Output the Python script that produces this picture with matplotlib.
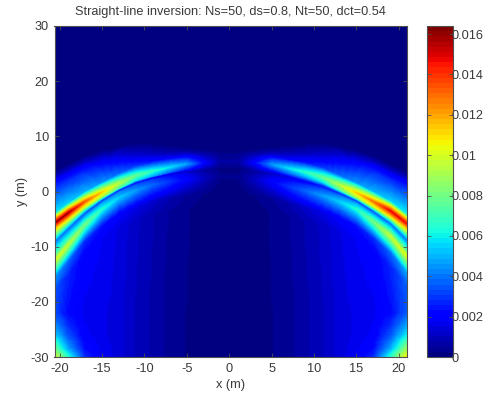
import numpy as np
import matplotlib
matplotlib.use('Agg')
import matplotlib.pyplot as plt

# Everything, one entry per x column
x_cols = [-21, -19, -17, -15, -13, -11, -9, -7, -5, -3, -1, 1, 3, 5, 7, 9, 11, 13, 15, 17, 19, 21]

# y of the features in each column
y_edge = [3.5, 5, 6.5, 7.5, 8.5, 9, 9, 8.5, 8.3, 8.1, 8, 8, 8.1, 8.3, 8.5, 9, 9, 8.5, 7.5, 6.5, 5, 3.5]
y_halo = [1, 2.5, 4, 5, 6, 6.5, 6.8, 7, 7.2, 7.3, 7.4, 7.4, 7.3, 7.2, 7, 6.8, 6.5, 6, 5, 4, 2.5, 1]
y_upper = [-6.3, -4, -1.9, -0.2, 1.4, 2.8, 3.6, 4.3, 4.9, 5.1, 5.3, 5.3, 5.1, 4.8, 4.1, 3.4, 2.5, 1.1, -0.3, -1.9, -3.6, -6]
y_lower = [-13.5, -9.8, -6.1, -3.3, -1.2, 0.1, 1.1, 1.7, 2.1, 2.4, 2.7, 2.6, 2, 1.6, 0.8, 0, -0.8, -1.9, -3.3, -5.6, -8.2, -12]

# values in units of 1e-4
z_halo = [25, 25, 25, 22, 17, 13, 10, 8, 6, 3, 1, 1, 3, 6, 8, 10, 13, 17, 22, 25, 25, 25]
z_foot = [60, 55, 50, 45, 38, 30, 24, 18, 13, 6, 2, 2, 6, 13, 18, 24, 30, 38, 45, 50, 55, 60]
z_above = [115, 105, 90, 78, 65, 52, 44, 37, 29, 13, 4, 4, 13, 30, 38, 45, 54, 66, 79, 90, 105, 110]
z_upper = [160, 160, 135, 115, 95, 78, 68, 58, 48, 22, 6, 6, 22, 46, 58, 68, 78, 95, 115, 130, 150, 148]
z_below = [115, 115, 100, 88, 72, 56, 46, 36, 26, 11, 3, 3, 11, 26, 36, 46, 56, 72, 88, 100, 112, 110]
z_dip = [42, 40, 36, 33, 29, 25, 20, 15, 11, 6, 1.5, 1.5, 6, 11, 15, 20, 25, 29, 33, 36, 40, 42]
z_lower_a = [78, 72, 60, 50, 42, 36, 30, 24, 16, 8, 2, 2, 8, 16, 24, 30, 36, 42, 50, 60, 72, 78]
z_lower = [105, 98, 82, 66, 55, 47, 38, 30, 21, 11, 3, 3, 11, 21, 30, 38, 47, 55, 66, 82, 98, 105]
z_lower_b = [80, 74, 60, 48, 41, 35, 28, 22, 14, 7, 2, 2, 7, 14, 22, 28, 35, 41, 48, 60, 74, 80]
z_tail_a = [48, 38, 28, 24, 20, 16, 12, 8, 5, 2.5, 1, 1, 2.5, 5, 8, 12, 16, 20, 24, 28, 38, 48]
z_tail_b = [36, 27, 20, 18, 15, 11, 8, 5, 3, 1, 0.5, 0.5, 1, 3, 5, 8, 11, 15, 18, 20, 27, 36]
z_y22 = [36, 22, 17, 16, 14, 10, 7, 4, 2.5, 1, 0.5, 0.5, 1, 2.5, 4, 7, 10, 14, 16, 17, 22, 36]
z_y26 = [60, 34, 19, 16, 14, 10, 7, 4, 2.5, 1, 0.5, 0.5, 1, 2.5, 4, 7, 10, 14, 16, 19, 34, 60]
z_y28 = [90, 48, 23, 17, 14, 10, 7, 4, 2.5, 1, 0.5, 0.5, 1, 2.5, 4, 7, 10, 14, 17, 23, 48, 90]
z_y30 = [108, 66, 28, 18, 14, 10, 7, 4, 2.5, 1, 0.5, 0.5, 1, 2.5, 4, 7, 10, 14, 18, 28, 66, 108]

x_ticks = [-20, -15, -10, -5, 0, 5, 10, 15, 20]
y_ticks = [-30, -20, -10, 0, 10, 20, 30]
cbar_ticks = [0, 0.002, 0.004, 0.006, 0.008, 0.01, 0.012, 0.014, 0.016]
cbar_labels = ['0', '0.002', '0.004', '0.006', '0.008', '0.01', '0.012', '0.014', '0.016']

plt.rcParams['font.family'] = ['Liberation Sans', 'DejaVu Sans']
plt.rcParams['font.size'] = 9.2
plt.rcParams['axes.unicode_minus'] = False
text_color = '#3a3a3a'
edge_color = '#505050'


def refine(a, k=8):
    # Fine grid so the shading blends values and not vertex colours
    rows, cols = a.shape
    i = np.linspace(0, rows - 1, (rows - 1) * k + 1)
    j = np.linspace(0, cols - 1, (cols - 1) * k + 1)
    by_col = np.array([np.interp(i, np.arange(rows), a[:, c]) for c in range(cols)]).T
    return np.array([np.interp(j, np.arange(cols), r) for r in by_col])


W, H = 490, 396
fig = plt.figure(figsize=(W / 100, H / 100), dpi=100)
ax = fig.add_axes([54.5 / W, 1 - 357 / H, 352 / W, 331 / H])
cax = fig.add_axes([427 / W, 1 - 357 / H, 26 / W, 331 / H])

# Mesh rows follow the two curved ridges, so the bands stay continuous
n = len(x_cols)
up = np.array(y_upper)
lo = np.array(y_lower)
y_mesh = np.array([
    np.full(n, 30.0), y_edge, y_halo, up + 1.8, up + 1.0, up, up - 1.0, (up + lo) / 2,
    lo + 1.0, lo, lo - 1.2, lo - 3, lo - 5.5,
    np.full(n, -22.0), np.full(n, -26.0), np.full(n, -28.5), np.full(n, -30.0),
])
z_mesh = np.array([
    np.zeros(n), np.zeros(n), z_halo, z_foot, z_above, z_upper, z_below, z_dip,
    z_lower_a, z_lower, z_lower_b, z_tail_a, z_tail_b,
    z_y22, z_y26, z_y28, z_y30,
]) * 1e-4
x_mesh = np.tile(np.array(x_cols, dtype=float), (len(y_mesh), 1))

mesh = ax.pcolormesh(refine(x_mesh), refine(y_mesh), refine(z_mesh), shading='gouraud',
                     cmap=plt.get_cmap('jet', 64), vmin=0, vmax=0.0164)
ax.set_xlim(-20.6, 20.9)
ax.set_ylim(-30, 30)
ax.set_xticks(x_ticks)
ax.set_yticks(y_ticks)
ax.set_xlabel('x (m)', color=text_color, labelpad=3.5)
ax.set_ylabel('y (m)', color=text_color, labelpad=2)
ax.set_title('Straight-line inversion: Ns=50, ds=0.8, Nt=50, dct=0.54', color=text_color, fontsize=9.2, pad=8)
ax.tick_params(direction='in', top=True, right=True, length=3, width=0.6, color=edge_color,
               labelcolor=text_color, pad=4)

cb = fig.colorbar(mesh, cax=cax)
cb.set_ticks(cbar_ticks)
cb.set_ticklabels(cbar_labels)
cb.ax.tick_params(direction='in', left=True, right=True, length=3, width=0.6, color=edge_color,
                  labelcolor=text_color, pad=-1)
for a in (ax, cax):
    for s in a.spines.values():
        s.set_color(edge_color)
        s.set_linewidth(0.8)

fig.savefig('out.png', dpi=100)
